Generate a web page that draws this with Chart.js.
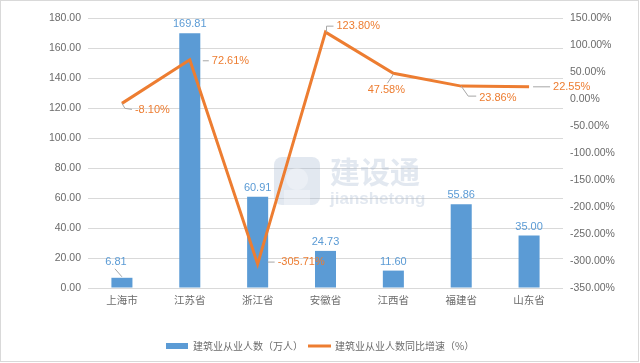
<!DOCTYPE html>
<html>
<head>
<meta charset="utf-8">
<script src="https://cdn.jsdelivr.net/npm/chart.js@4.4.1/dist/chart.umd.min.js"></script>
<style>
  html, body { margin: 0; padding: 0; background: #fff; }
  #wrap { width: 640px; height: 363px; }
</style>
</head>
<body>
<div id="wrap"><canvas id="combo" width="640" height="363"></canvas></div>
<script>
const provinces = ["上海市", "江苏省", "浙江省", "安徽省", "江西省", "福建省", "山东省"];
const workers = [6.81, 169.81, 60.91, 24.73, 11.60, 55.86, 35.00];
const growth = [-8.10, 72.61, -305.71, 123.80, 47.58, 23.86, 22.55];
const barName = "建筑业从业人数（万人）";
const lineName = "建筑业从业人数同比增速（%）";

const BLUE = "#5B9BD5";
const ORANGE = "#ED7D31";
const GREY = "#6b6b6b";
const numFont = "Liberation Sans, Arial, sans-serif";
const cjkFont = "Noto Sans CJK SC, sans-serif";

// label offsets for the growth line, relative to each point: [dx, dy, align, leader]
const lineLabelPlace = [
    [13, 7, "left", [[0, 0], [3, 5], [10, 6]]],
    [22, 1, "left", [[13, 1], [19, 1]]],
    [20, -2, "left", [[10, -2], [17, -2]]],
    [11, -6, "left", [[1, 0], [1, -6], [8, -6]]],
    [-7, 17, "center", [[0, 1], [-6, 10]]],
    [18, 12, "left", [[0, 0], [7, 10], [15, 10]]],
    [24, 0, "left", [[4, 0], [21, 0]]]
];

const watermark = {
    id: "watermark",
    beforeDatasetsDraw(chart) {
        const { ctx } = chart;
        ctx.save();
        ctx.globalAlpha = 0.3;
        ctx.fillStyle = "#9fb4cc";
        const x = 274, y = 157, w = 46, h = 48, r = 8;
        ctx.beginPath();
        ctx.moveTo(x + r, y);
        ctx.arcTo(x + w, y, x + w, y + h, r);
        ctx.arcTo(x + w, y + h, x, y + h, r);
        ctx.arcTo(x, y + h, x, y, r);
        ctx.arcTo(x, y, x + w, y, r);
        ctx.fill();
        ctx.fillStyle = "#ffffff";
        ctx.beginPath();
        ctx.arc(x + 23, y + 22, 11, 0, Math.PI * 2);
        ctx.fill();
        ctx.fillRect(x + 10, y + 33, 26, 15);
        ctx.fillStyle = "#9fb4cc";
        ctx.font = "bold 30px " + cjkFont;
        ctx.textBaseline = "middle";
        ctx.textAlign = "left";
        ctx.fillText("建设通", 330, 172);
        ctx.font = "bold 17px " + numFont;
        ctx.fillText("jianshetong", 330, 199);
        ctx.restore();
    }
};

const dataLabels = {
    id: "dataLabels",
    afterDatasetsDraw(chart) {
        const { ctx } = chart;
        ctx.save();
        ctx.font = "11px " + numFont;
        ctx.textBaseline = "middle";

        // bar values (the short first bar gets a lifted label with a leader)
        const bars = chart.getDatasetMeta(0).data;
        ctx.textAlign = "center";
        bars.forEach((bar, i) => {
            let lx = bar.x, ly = bar.y - 9;
            if (bar.base - bar.y < 15) {
                lx = bar.x - 6;
                ly = bar.y - 16;
                ctx.strokeStyle = "#a6a6a6";
                ctx.lineWidth = 1;
                ctx.beginPath();
                ctx.moveTo(bar.x - 7, bar.y - 9);
                ctx.lineTo(bar.x, bar.y - 1);
                ctx.stroke();
            }
            ctx.fillStyle = BLUE;
            ctx.fillText(workers[i].toFixed(2), lx, ly);
        });

        // growth values
        const pts = chart.getDatasetMeta(1).data;
        pts.forEach((p, i) => {
            const [dx, dy, align, leader] = lineLabelPlace[i];
            ctx.strokeStyle = "#a6a6a6";
            ctx.lineWidth = 1;
            ctx.beginPath();
            leader.forEach(([lx, ly], k) => {
                if (k === 0) ctx.moveTo(p.x + lx, p.y + ly);
                else ctx.lineTo(p.x + lx, p.y + ly);
            });
            ctx.stroke();
            ctx.fillStyle = ORANGE;
            ctx.textAlign = align;
            ctx.fillText(growth[i].toFixed(2) + "%", p.x + dx, p.y + dy);
        });
        ctx.restore();
    }
};

const legendAndFrame = {
    id: "legendAndFrame",
    afterDraw(chart) {
        const { ctx } = chart;
        ctx.save();
        ctx.fillStyle = BLUE;
        ctx.fillRect(166, 343, 22, 6);
        ctx.strokeStyle = ORANGE;
        ctx.lineWidth = 3;
        ctx.beginPath();
        ctx.moveTo(308, 346);
        ctx.lineTo(331, 346);
        ctx.stroke();
        ctx.fillStyle = GREY;
        ctx.font = "10px " + cjkFont;
        ctx.textBaseline = "middle";
        ctx.textAlign = "left";
        ctx.fillText(barName, 193, 346);
        ctx.fillText(lineName, 335, 346);
        ctx.strokeStyle = "#d9d9d9";
        ctx.lineWidth = 1;
        ctx.strokeRect(0.5, 0.5, 638, 361);
        ctx.restore();
    }
};

new Chart(document.getElementById("combo"), {
    data: {
        labels: provinces,
        datasets: [
            {
                type: "bar",
                label: barName,
                data: workers,
                backgroundColor: BLUE,
                barPercentage: 0.31,
                categoryPercentage: 1,
                yAxisID: "y",
                order: 2
            },
            {
                type: "line",
                label: lineName,
                data: growth,
                borderColor: ORANGE,
                backgroundColor: ORANGE,
                borderWidth: 3,
                pointRadius: 0,
                tension: 0,
                yAxisID: "y1",
                order: 1
            }
        ]
    },
    options: {
        responsive: false,
        animation: false,
        layout: { padding: { top: 18, left: 0, right: 0, bottom: 0 } },
        plugins: {
            legend: { display: false },
            tooltip: { enabled: false }
        },
        scales: {
            x: {
                grid: { display: false, drawTicks: false },
                border: { display: false },
                ticks: { color: GREY, font: { family: cjkFont, size: 10.5 }, padding: 6 },
                afterFit(scale) { scale.height = 75; }
            },
            y: {
                position: "left",
                min: 0,
                max: 180,
                grid: { color: "#d9d9d9", drawTicks: false },
                border: { display: false },
                ticks: {
                    stepSize: 20,
                    color: GREY,
                    padding: 7,
                    font: { family: numFont, size: 10.5 },
                    callback: v => v.toFixed(2)
                },
                afterFit(scale) { scale.width = 88; }
            },
            y1: {
                position: "right",
                min: -350,
                max: 150,
                grid: { display: false, drawTicks: false },
                border: { display: false },
                ticks: {
                    stepSize: 50,
                    color: GREY,
                    padding: 7,
                    font: { family: numFont, size: 10.5 },
                    callback: v => v.toFixed(2) + "%"
                },
                afterFit(scale) { scale.width = 77; }
            }
        }
    },
    plugins: [watermark, dataLabels, legendAndFrame]
});
</script>
</body>
</html>
